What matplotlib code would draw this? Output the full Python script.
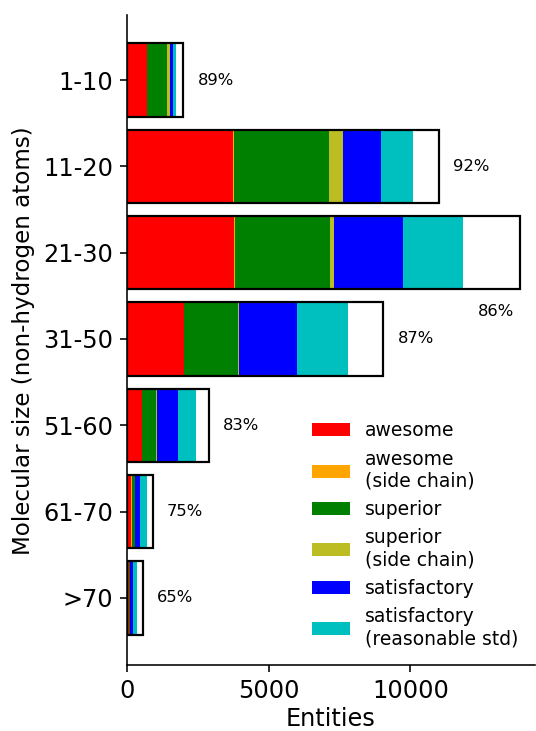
import numpy as np
import matplotlib
matplotlib.use('Agg')
import matplotlib.pyplot as plt

sizes = ['1-10', '11-20', '21-30', '31-50', '51-60', '61-70', '>70']

awesome = [695, 3743, 3778, 2013, 531, 155, 60]
awesome_side = [10, 47, 30, 15, 8, 5, 2]
superior = [720, 3341, 3372, 1892, 474, 112, 44]
superior_side = [82, 495, 127, 47, 35, 24, 8]
satisfactory = [117, 1354, 2426, 2035, 752, 177, 106]
satisfactory_std = [118, 1106, 2142, 1811, 636, 222, 140]
totals = [1990, 11015, 13874, 9050, 2895, 907, 554]
pct_labels = ['89%', '92%', '86%', '87%', '83%', '75%', '65%']

series = [
    ('awesome', awesome, 'red'),
    ('awesome\n(side chain)', awesome_side, 'orange'),
    ('superior', superior, 'green'),
    ('superior\n(side chain)', superior_side, 'tab:olive'),
    ('satisfactory', satisfactory, 'blue'),
    ('satisfactory\n(reasonable std)', satisfactory_std, 'c'),
]

fig = plt.figure(figsize=(536 / 144, 731 / 144), dpi=144)
ax = fig.add_axes([0.237, 0.090, 0.761, 0.889])

y = np.arange(len(sizes))
h = 0.85
left = np.zeros(len(sizes))
for name, vals, col in series:
    ax.barh(y, vals, height=h, left=left, color=col, label=name)
    left += np.array(vals)

# outline of total entities
ax.barh(y, totals, height=h, facecolor='none', edgecolor='black', linewidth=1.1)

# percentage labels (21-30 one sits below its bar)
for i, t in enumerate(totals):
    if i == 2:
        ax.text(t - 1500, i + 0.68, pct_labels[i], va='center', fontsize=8.2)
    else:
        ax.text(t + 500, i, pct_labels[i], va='center', fontsize=8.2)

ax.set_yticks(y)
ax.set_yticklabels(sizes)
ax.set_ylim(6.78, -0.75)
ax.set_xlim(0, 14400)
ax.set_xticks([0, 5000, 10000])
ax.tick_params(labelsize=12)
ax.set_xlabel('Entities', fontsize=12, labelpad=2)
ax.set_ylabel('Molecular size (non-hydrogen atoms)', fontsize=11.5, labelpad=4)
ax.spines['top'].set_visible(False)
ax.spines['right'].set_visible(False)

ax.legend(loc='lower right', frameon=False, fontsize=9.4)

fig.savefig('out.png', dpi=144)
